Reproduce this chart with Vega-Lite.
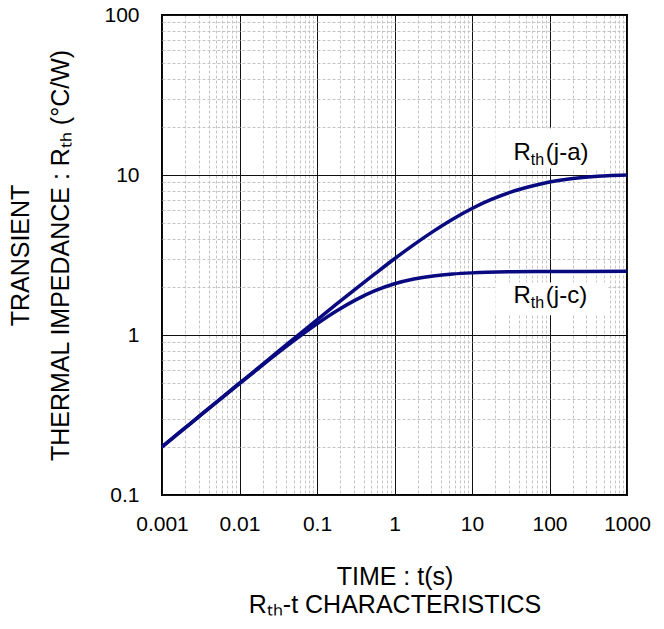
{
  "$schema": "https://vega.github.io/schema/vega-lite/v6.json",
  "width": 465,
  "height": 480,
  "autosize": "none",
  "padding": {"left": 162, "top": 15, "right": 37, "bottom": 134},
  "background": "white",
  "config": {
    "font": "Liberation Sans",
    "view": {"stroke": "black", "strokeWidth": 2}
  },
  "datasets": {
    "curves": [
      {"series": "j-c", "t": 0.001, "r": 0.2},
      {"series": "j-c", "t": 0.00178, "r": 0.2513},
      {"series": "j-c", "t": 0.00316, "r": 0.316},
      {"series": "j-c", "t": 0.00562, "r": 0.3965},
      {"series": "j-c", "t": 0.01, "r": 0.4965},
      {"series": "j-c", "t": 0.0178, "r": 0.621},
      {"series": "j-c", "t": 0.0316, "r": 0.775},
      {"series": "j-c", "t": 0.0562, "r": 0.959},
      {"series": "j-c", "t": 0.1, "r": 1.174},
      {"series": "j-c", "t": 0.178, "r": 1.412},
      {"series": "j-c", "t": 0.316, "r": 1.658},
      {"series": "j-c", "t": 0.562, "r": 1.891},
      {"series": "j-c", "t": 1, "r": 2.09},
      {"series": "j-c", "t": 1.78, "r": 2.238},
      {"series": "j-c", "t": 3.16, "r": 2.339},
      {"series": "j-c", "t": 5.62, "r": 2.405},
      {"series": "j-c", "t": 10, "r": 2.445},
      {"series": "j-c", "t": 31.6, "r": 2.482},
      {"series": "j-c", "t": 100, "r": 2.494},
      {"series": "j-c", "t": 1000, "r": 2.5},
      {"series": "j-a", "t": 0.001, "r": 0.2},
      {"series": "j-a", "t": 0.00178, "r": 0.2516},
      {"series": "j-a", "t": 0.00316, "r": 0.3165},
      {"series": "j-a", "t": 0.00562, "r": 0.398},
      {"series": "j-a", "t": 0.01, "r": 0.4999},
      {"series": "j-a", "t": 0.0178, "r": 0.628},
      {"series": "j-a", "t": 0.0316, "r": 0.79},
      {"series": "j-a", "t": 0.0562, "r": 0.991},
      {"series": "j-a", "t": 0.1, "r": 1.243},
      {"series": "j-a", "t": 0.178, "r": 1.557},
      {"series": "j-a", "t": 0.316, "r": 1.942},
      {"series": "j-a", "t": 0.562, "r": 2.416},
      {"series": "j-a", "t": 1, "r": 2.996},
      {"series": "j-a", "t": 1.78, "r": 3.674},
      {"series": "j-a", "t": 3.16, "r": 4.443},
      {"series": "j-a", "t": 5.62, "r": 5.294},
      {"series": "j-a", "t": 10, "r": 6.18},
      {"series": "j-a", "t": 17.8, "r": 7.03},
      {"series": "j-a", "t": 31.6, "r": 7.82},
      {"series": "j-a", "t": 56.2, "r": 8.48},
      {"series": "j-a", "t": 100, "r": 9.05},
      {"series": "j-a", "t": 178, "r": 9.45},
      {"series": "j-a", "t": 316, "r": 9.72},
      {"series": "j-a", "t": 562, "r": 9.9},
      {"series": "j-a", "t": 1000, "r": 10.0}
    ],
    "labels": [
      {"main": "R", "sub": "th", "rest": "(j-a)", "t": 57.5, "r": 12.4, "t1": 20, "t2": 574, "r1": 11.0, "r2": 19.6},
      {"main": "R", "sub": "th", "rest": "(j-c)", "t": 57.5, "r": 1.576, "t1": 20, "t2": 574, "r1": 1.33, "r2": 2.13}
    ]
  },
  "layer": [
    {
      "data": {"name": "labels"},
      "mark": {"type": "rect", "fill": "white", "stroke": null},
      "encoding": {
        "x": {
          "field": "t1", "type": "quantitative",
          "scale": {"type": "log", "domain": [0.001, 1000], "nice": false},
          "axis": {
            "values": [0.001,0.002,0.003,0.004,0.005,0.006,0.007,0.008,0.009,
                       0.01,0.02,0.03,0.04,0.05,0.06,0.07,0.08,0.09,
                       0.1,0.2,0.3,0.4,0.5,0.6,0.7,0.8,0.9,
                       1,2,3,4,5,6,7,8,9,
                       10,20,30,40,50,60,70,80,90,
                       100,200,300,400,500,600,700,800,900,1000],
            "domain": false,
            "ticks": false,
            "grid": true,
            "gridColor": {"condition": {"test": "abs(log(datum.value)/LN10 - round(log(datum.value)/LN10)) < 0.001", "value": "#111111"}, "value": "#c4c4c4"},
            "gridDash": {"condition": {"test": "abs(log(datum.value)/LN10 - round(log(datum.value)/LN10)) < 0.001", "value": []}, "value": [3, 2]},
            "gridWidth": 1,
            "gridOpacity": 1,
            "labelExpr": "abs(log(datum.value)/LN10 - round(log(datum.value)/LN10)) < 0.001 ? format(datum.value, '~g') : ''",
            "labelFontSize": 21,
            "labelColor": "black",
            "labelPadding": 18,
            "labelFlush": false,
            "labelOverlap": false,
            "labelFont": "Liberation Sans",
            "title": ["TIME : t(s)", "Rₜₕ-t CHARACTERISTICS"],
            "titleFontSize": 25,
            "titleFontWeight": "normal",
            "titleColor": "black",
            "titleLineHeight": 28,
            "titlePadding": 30,
            "titleFont": "Liberation Sans"
          }
        },
        "x2": {"field": "t2"},
        "y": {
          "field": "r1", "type": "quantitative",
          "scale": {"type": "log", "domain": [0.1, 100], "nice": false},
          "axis": {
            "values": [0.1,0.2,0.3,0.4,0.5,0.6,0.7,0.8,0.9,
                       1,2,3,4,5,6,7,8,9,
                       10,20,30,40,50,60,70,80,90,100],
            "domain": false,
            "ticks": false,
            "grid": true,
            "gridColor": {"condition": {"test": "abs(log(datum.value)/LN10 - round(log(datum.value)/LN10)) < 0.001", "value": "#111111"}, "value": "#c4c4c4"},
            "gridDash": {"condition": {"test": "abs(log(datum.value)/LN10 - round(log(datum.value)/LN10)) < 0.001", "value": []}, "value": [3, 2]},
            "gridWidth": 1,
            "gridOpacity": 1,
            "labelExpr": "abs(log(datum.value)/LN10 - round(log(datum.value)/LN10)) < 0.001 ? format(datum.value, '~g') : ''",
            "labelFontSize": 21,
            "labelColor": "black",
            "labelPadding": 23,
            "labelFlush": false,
            "labelOverlap": false,
            "labelFont": "Liberation Sans",
            "title": ["TRANSIENT", "THERMAL IMPEDANCE : Rₜₕ (°C/W)"],
            "titleFontSize": 25,
            "titleFontWeight": "normal",
            "titleColor": "black",
            "titleLineHeight": 40,
            "titlePadding": 30,
            "titleFont": "Liberation Sans"
          }
        },
        "y2": {"field": "r2"}
      }
    },
    {
      "data": {"name": "curves"},
      "mark": {"type": "line", "color": "#0a0a80", "strokeWidth": 3.5, "interpolate": "monotone"},
      "encoding": {
        "x": {"field": "t", "type": "quantitative"},
        "y": {"field": "r", "type": "quantitative"},
        "detail": {"field": "series"}
      }
    },
    {
      "data": {"name": "labels"},
      "mark": {"type": "text", "fontSize": 24, "align": "right", "baseline": "alphabetic", "color": "black", "font": "Liberation Sans"},
      "encoding": {
        "x": {"field": "t", "type": "quantitative"},
        "y": {"field": "r", "type": "quantitative"},
        "text": {"field": "main"}
      }
    },
    {
      "data": {"name": "labels"},
      "mark": {"type": "text", "fontSize": 16, "align": "left", "baseline": "alphabetic", "dy": 5, "color": "black", "font": "Liberation Sans"},
      "encoding": {
        "x": {"field": "t", "type": "quantitative"},
        "y": {"field": "r", "type": "quantitative"},
        "text": {"field": "sub"}
      }
    },
    {
      "data": {"name": "labels"},
      "mark": {"type": "text", "fontSize": 24, "align": "left", "baseline": "alphabetic", "dx": 15, "color": "black", "font": "Liberation Sans"},
      "encoding": {
        "x": {"field": "t", "type": "quantitative"},
        "y": {"field": "r", "type": "quantitative"},
        "text": {"field": "rest"}
      }
    }
  ]
}
